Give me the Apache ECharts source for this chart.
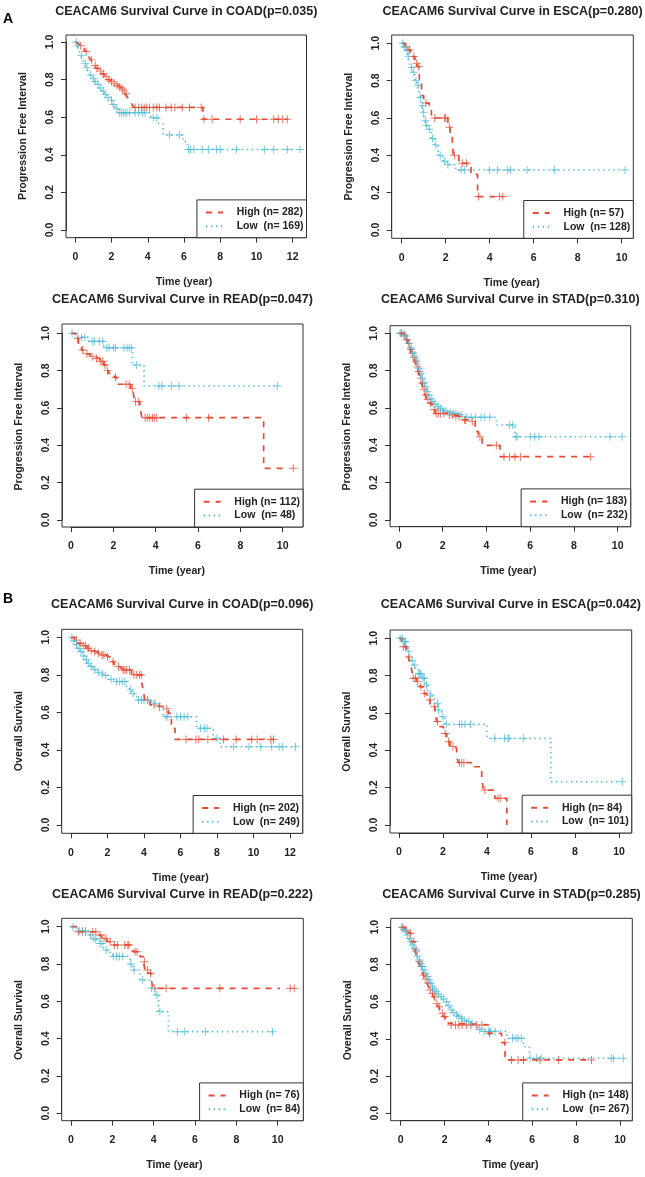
<!DOCTYPE html>
<html>
<head>
<meta charset="utf-8">
<script src="https://cdn.jsdelivr.net/npm/echarts@6/dist/echarts.min.js"></script>
<style>
  html, body { margin: 0; background: #fff; }
  #chart { width: 645px; height: 1177px; }
</style>
</head>
<body>
<div id="chart"></div>
<script>
// ---- panel labels ----
const cancers = ["COAD", "ESCA", "READ", "STAD", "COAD", "ESCA", "READ", "STAD"];
const pValues = ["0.035", "0.280", "0.047", "0.310", "0.096", "0.042", "0.222", "0.285"];
const endpoints = ["Progression Free Interval", "Progression Free Interval", "Progression Free Interval", "Progression Free Interval",
  "Overall Survival", "Overall Survival", "Overall Survival", "Overall Survival"];
const highN = [282, 57, 112, 183, 202, 84, 76, 148];
const lowN = [169, 128, 48, 232, 249, 101, 84, 267];
const xMaxTick = [12, 10, 10, 10, 12, 10, 10, 10];
const yTickLabels = ["0.0", "0.2", "0.4", "0.6", "0.8", "1.0"];

// ---- curves: T = time of drop, S = survival after drop, C = censor times ----
// A: COAD PFI
const coadPfiHighT = [0, 0.1, 0.2, 0.35, 0.5, 0.65, 0.75, 0.85, 0.95, 1.05, 1.15, 1.3, 1.45, 1.6, 1.75, 1.9, 2.05, 2.2, 2.35, 2.5, 2.65, 2.75, 2.85, 2.95, 3.05, 3.15, 3.25, 7.05];
const coadPfiHighS = [1, 0.99, 0.98, 0.965, 0.95, 0.935, 0.92, 0.905, 0.89, 0.875, 0.86, 0.845, 0.83, 0.815, 0.8, 0.79, 0.78, 0.77, 0.76, 0.75, 0.74, 0.725, 0.71, 0.695, 0.68, 0.665, 0.652, 0.589];
const coadPfiHighC = [0.3, 0.6, 0.9, 1.1, 1.2, 1.4, 1.55, 1.7, 1.85, 2.0, 2.15, 2.3, 2.45, 2.6, 2.7, 2.8, 3.3, 3.5, 3.65, 3.8, 3.95, 4.1, 4.3, 4.5, 4.65, 5.0, 5.3, 5.5, 5.9, 6.3, 6.95, 7.1, 7.55, 9.1, 10.0, 10.95, 11.2, 11.45, 11.7];
const coadPfiLowT = [0, 0.1, 0.2, 0.3, 0.4, 0.5, 0.6, 0.7, 0.8, 0.95, 1.05, 1.15, 1.3, 1.45, 1.6, 1.75, 1.9, 2.05, 2.2, 2.35, 4.15, 4.6, 4.85, 5.95, 6.2];
const coadPfiLowS = [1, 0.98, 0.955, 0.93, 0.905, 0.885, 0.865, 0.845, 0.825, 0.805, 0.79, 0.775, 0.755, 0.74, 0.72, 0.705, 0.69, 0.668, 0.645, 0.624, 0.597, 0.567, 0.505, 0.47, 0.428];
const coadPfiLowC = [0.05, 0.15, 0.35, 0.55, 0.65, 0.85, 1.0, 1.1, 1.25, 1.4, 1.55, 1.65, 1.8, 2.0, 2.1, 2.3, 2.45, 2.55, 2.65, 2.75, 2.85, 3.0, 3.3, 3.5, 3.7, 3.85, 4.3, 4.5, 5.2, 5.75, 6.25, 6.35, 6.55, 7.0, 7.35, 7.8, 8.0, 8.9, 10.45, 10.95, 11.7, 12.4];
// A: ESCA PFI
const escaPfiHighT = [0, 0.15, 0.3, 0.4, 0.5, 0.6, 0.7, 0.8, 0.9, 1.0, 1.25, 1.35, 2.1, 2.2, 2.3, 2.35, 2.6, 3.15, 3.45];
const escaPfiHighS = [1, 0.982, 0.964, 0.946, 0.929, 0.893, 0.875, 0.8, 0.72, 0.68, 0.64, 0.6, 0.55, 0.5, 0.45, 0.4, 0.357, 0.298, 0.179];
const escaPfiHighC = [0.2, 0.35, 0.55, 0.68, 0.78, 1.1, 1.5, 1.95, 2.0, 2.17, 2.4, 2.75, 2.95, 3.5, 4.45, 4.6];
const escaPfiLowT = [0, 0.1, 0.2, 0.27, 0.33, 0.4, 0.5, 0.6, 0.7, 0.76, 0.83, 0.9, 0.97, 1.05, 1.12, 1.2, 1.35, 1.5, 1.65, 1.85, 2.05, 2.45];
const escaPfiLowS = [1, 0.98, 0.96, 0.93, 0.9, 0.87, 0.845, 0.8, 0.775, 0.755, 0.71, 0.665, 0.63, 0.585, 0.56, 0.54, 0.49, 0.455, 0.4, 0.37, 0.35, 0.321];
const escaPfiLowC = [0.05, 0.12, 0.25, 0.3, 0.45, 0.55, 0.65, 0.75, 0.85, 0.95, 1.0, 1.08, 1.15, 1.25, 1.4, 1.55, 1.75, 1.95, 2.1, 2.7, 2.85, 4.0, 4.35, 4.8, 4.95, 5.7, 6.95, 10.15];
// A: READ PFI
const readPfiHighT = [0, 0.2, 0.35, 0.5, 0.65, 0.9, 1.15, 1.35, 1.55, 1.68, 1.78, 2.05, 2.15, 2.82, 2.95, 3.02, 3.25, 3.34, 9.1];
const readPfiHighS = [1, 0.973, 0.93, 0.91, 0.89, 0.875, 0.865, 0.85, 0.83, 0.8, 0.785, 0.765, 0.727, 0.705, 0.67, 0.634, 0.616, 0.548, 0.277];
const readPfiHighC = [0.3, 0.55, 0.75, 1.0, 1.2, 1.4, 1.5, 1.6, 1.72, 2.1, 2.6, 2.75, 2.9, 3.05, 3.2, 3.5, 3.6, 3.72, 3.85, 3.95, 4.05, 5.45, 6.5, 10.5];
const readPfiLowT = [0, 0.3, 0.8, 1.55, 2.9, 3.45];
const readPfiLowS = [1, 0.979, 0.957, 0.923, 0.83, 0.718];
const readPfiLowC = [0.05, 0.5, 0.65, 1.0, 1.1, 1.35, 1.5, 1.7, 1.8, 2.0, 2.1, 2.5, 2.65, 2.75, 2.85, 3.1, 4.15, 4.3, 4.75, 5.1, 9.75];
// A: STAD PFI
const stadPfiHighT = [0, 0.2, 0.3, 0.4, 0.5, 0.58, 0.65, 0.73, 0.8, 0.88, 0.96, 1.03, 1.11, 1.19, 1.27, 1.38, 1.5, 1.65, 2.18, 2.5, 2.95, 3.1, 3.48, 3.63, 3.8, 4.62];
const stadPfiHighS = [1, 0.99, 0.965, 0.946, 0.915, 0.893, 0.87, 0.848, 0.82, 0.795, 0.76, 0.732, 0.7, 0.67, 0.645, 0.625, 0.59, 0.571, 0.563, 0.554, 0.536, 0.527, 0.473, 0.446, 0.4, 0.339];
const stadPfiHighC = [0.1, 0.25, 0.35, 0.45, 0.55, 0.62, 0.7, 0.78, 0.85, 0.92, 1.0, 1.07, 1.15, 1.23, 1.32, 1.45, 1.6, 1.7, 1.8, 1.9, 2.05, 2.3, 2.45, 2.6, 2.75, 3.0, 3.05, 3.35, 3.7, 4.45, 4.8, 5.05, 5.3, 5.55, 8.75];
const stadPfiLowT = [0, 0.2, 0.27, 0.35, 0.43, 0.5, 0.58, 0.65, 0.73, 0.8, 0.88, 0.96, 1.04, 1.11, 1.19, 1.27, 1.34, 1.42, 1.5, 1.6, 1.72, 1.85, 1.95, 2.1, 2.26, 2.45, 2.64, 2.95, 4.45, 5.3];
const stadPfiLowS = [1, 0.995, 0.985, 0.965, 0.946, 0.923, 0.9, 0.88, 0.857, 0.835, 0.81, 0.785, 0.76, 0.735, 0.714, 0.69, 0.67, 0.65, 0.634, 0.62, 0.607, 0.597, 0.589, 0.582, 0.576, 0.57, 0.563, 0.55, 0.509, 0.446];
const stadPfiLowC = [0.05, 0.12, 0.22, 0.3, 0.38, 0.47, 0.55, 0.62, 0.7, 0.77, 0.85, 0.92, 1.0, 1.08, 1.15, 1.23, 1.3, 1.38, 1.47, 1.55, 1.65, 1.78, 1.9, 2.0, 2.15, 2.35, 2.5, 2.6, 2.7, 2.85, 3.1, 3.3, 3.5, 3.75, 3.9, 4.15, 5.05, 5.2, 5.35, 5.4, 6.0, 6.2, 6.4, 9.65, 10.2];
// B: COAD OS
const coadOsHighT = [0, 0.2, 0.4, 0.6, 0.86, 1.05, 1.22, 1.4, 1.59, 1.95, 2.1, 2.23, 2.35, 2.5, 2.65, 2.78, 3.32, 3.87, 3.95, 4.05, 4.33, 4.6, 5.06, 5.33, 5.5, 5.7];
const coadOsHighS = [1, 0.985, 0.968, 0.955, 0.941, 0.93, 0.924, 0.915, 0.906, 0.897, 0.885, 0.87, 0.857, 0.844, 0.835, 0.826, 0.8, 0.764, 0.72, 0.666, 0.64, 0.63, 0.62, 0.595, 0.515, 0.456];
const coadOsHighC = [0.3, 0.5, 0.7, 0.8, 0.95, 1.1, 1.3, 1.5, 1.7, 1.8, 2.0, 2.3, 2.6, 2.85, 2.95, 3.05, 3.2, 3.45, 3.6, 3.75, 3.85, 4.2, 4.55, 4.85, 5.25, 6.3, 6.85, 7.0, 7.5, 8.35, 9.05, 9.9, 10.2, 10.95, 11.1];
const coadOsLowT = [0, 0.1, 0.22, 0.35, 0.5, 0.63, 0.77, 0.9, 1.04, 1.2, 1.4, 1.6, 1.77, 2.05, 2.41, 3.05, 3.2, 3.32, 3.45, 3.6, 4.42, 4.88, 5.06, 6.89, 7.8, 8.16];
const coadOsLowS = [1, 0.98, 0.96, 0.94, 0.924, 0.9, 0.88, 0.862, 0.844, 0.828, 0.814, 0.805, 0.796, 0.776, 0.764, 0.737, 0.72, 0.7, 0.685, 0.666, 0.648, 0.63, 0.577, 0.515, 0.462, 0.417];
const coadOsLowC = [0.05, 0.15, 0.3, 0.45, 0.55, 0.7, 0.85, 0.95, 1.1, 1.3, 1.5, 1.7, 1.9, 2.2, 2.5, 2.65, 2.8, 2.95, 3.25, 3.4, 3.7, 3.85, 4.0, 4.2, 4.6, 5.2, 5.3, 5.8, 6.0, 6.2, 6.4, 7.1, 7.3, 7.45, 8.0, 8.9, 9.75, 10.4, 11.0, 11.4, 11.6, 12.3];
// B: ESCA OS
const escaOsHighT = [0, 0.12, 0.2, 0.35, 0.42, 0.5, 0.58, 0.65, 0.8, 0.95, 1.1, 1.26, 1.41, 1.64, 1.71, 1.86, 2.02, 2.17, 2.32, 2.47, 2.62, 2.7, 3.4, 3.76, 3.83, 4.36, 4.9];
const escaOsHighS = [1, 0.982, 0.955, 0.937, 0.9, 0.866, 0.83, 0.786, 0.768, 0.74, 0.705, 0.67, 0.634, 0.598, 0.554, 0.527, 0.49, 0.446, 0.42, 0.411, 0.366, 0.334, 0.312, 0.259, 0.187, 0.143, 0];
const escaOsHighC = [0.2, 0.3, 0.45, 0.65, 0.75, 0.85, 1.0, 1.15, 1.4, 1.6, 1.75, 2.1, 2.25, 2.45, 2.75, 2.85, 2.95, 3.9, 4.5, 4.6];
const escaOsLowT = [0, 0.2, 0.35, 0.42, 0.5, 0.58, 0.65, 0.75, 0.88, 1.03, 1.18, 1.3, 1.41, 1.52, 1.64, 1.79, 1.94, 2.09, 4.0, 6.9];
const escaOsLowS = [1, 0.982, 0.955, 0.93, 0.9, 0.88, 0.857, 0.835, 0.81, 0.786, 0.75, 0.72, 0.696, 0.675, 0.652, 0.616, 0.58, 0.539, 0.464, 0.232];
const escaOsLowC = [0.05, 0.15, 0.25, 0.3, 0.45, 0.6, 0.7, 0.9, 0.95, 1.0, 1.1, 1.15, 1.25, 1.45, 1.75, 1.8, 2.0, 2.15, 2.75, 2.85, 3.0, 3.25, 4.35, 4.8, 4.95, 5.0, 5.65, 10.15];
// B: READ OS
const readOsHighT = [0, 0.27, 1.32, 1.48, 1.73, 1.97, 2.94, 3.02, 3.34, 3.5, 3.58, 3.74, 3.9, 3.98];
const readOsHighS = [1, 0.973, 0.955, 0.9375, 0.92, 0.902, 0.884, 0.866, 0.84, 0.8125, 0.768, 0.75, 0.705, 0.67];
const readOsHighC = [0.35, 0.55, 0.7, 1.05, 1.2, 1.4, 1.6, 1.7, 1.9, 2.1, 2.25, 2.6, 2.75, 2.8, 3.1, 3.2, 3.55, 3.7, 3.85, 4.05, 4.6, 7.2, 10.6, 10.8];
const readOsLowT = [0, 0.11, 0.35, 0.84, 1.0, 1.16, 1.4, 1.56, 1.65, 1.89, 1.97, 2.85, 3.0, 3.34, 3.9, 4.06, 4.23, 4.71];
const readOsLowS = [1, 0.99, 0.977, 0.955, 0.9375, 0.93, 0.91, 0.89, 0.875, 0.85, 0.84, 0.8, 0.768, 0.714, 0.67, 0.634, 0.545, 0.4375];
const readOsLowC = [0.1, 0.4, 0.55, 0.7, 0.95, 1.1, 1.2, 1.4, 1.5, 1.7, 2.05, 2.2, 2.35, 2.5, 2.9, 3.05, 3.45, 3.9, 4.15, 4.3, 5.15, 5.5, 6.5, 9.75];
// B: STAD OS
const stadOsHighT = [0, 0.2, 0.35, 0.5, 0.65, 0.73, 0.8, 0.88, 0.96, 1.03, 1.11, 1.19, 1.27, 1.34, 1.42, 1.49, 1.57, 1.64, 1.72, 1.79, 1.87, 1.95, 2.05, 2.17, 2.3, 4.0, 4.6, 4.76];
const stadOsHighS = [1, 0.986, 0.968, 0.923, 0.878, 0.842, 0.815, 0.789, 0.766, 0.744, 0.722, 0.7, 0.68, 0.663, 0.645, 0.627, 0.61, 0.591, 0.573, 0.556, 0.538, 0.52, 0.502, 0.484, 0.475, 0.43, 0.38, 0.287];
const stadOsHighC = [0.1, 0.25, 0.45, 0.6, 0.7, 0.85, 0.95, 1.05, 1.15, 1.25, 1.35, 1.45, 1.55, 1.65, 1.75, 1.9, 2.0, 2.3, 2.5, 2.65, 2.8, 3.0, 3.2, 3.45, 3.7, 4.05, 4.75, 5.05, 5.35, 5.6, 6.35, 7.2, 8.7];
const stadOsLowT = [0, 0.1, 0.2, 0.28, 0.35, 0.43, 0.5, 0.58, 0.65, 0.72, 0.8, 0.88, 0.96, 1.03, 1.11, 1.19, 1.26, 1.34, 1.41, 1.49, 1.57, 1.68, 1.79, 1.9, 2.02, 2.13, 2.25, 2.36, 2.48, 2.6, 2.7, 2.85, 3.0, 3.15, 3.3, 3.42, 3.54, 3.77, 4.83, 5.6, 5.87];
const stadOsLowS = [1, 0.99, 0.977, 0.958, 0.94, 0.922, 0.905, 0.887, 0.869, 0.846, 0.824, 0.806, 0.789, 0.771, 0.753, 0.735, 0.717, 0.7, 0.681, 0.668, 0.654, 0.64, 0.627, 0.614, 0.6, 0.578, 0.556, 0.542, 0.529, 0.52, 0.51, 0.5, 0.493, 0.484, 0.475, 0.462, 0.45, 0.44, 0.403, 0.358, 0.296];
const stadOsLowC = [0.05, 0.15, 0.25, 0.32, 0.4, 0.47, 0.55, 0.62, 0.7, 0.77, 0.85, 0.92, 1.0, 1.07, 1.15, 1.23, 1.3, 1.38, 1.45, 1.53, 1.62, 1.72, 1.85, 1.95, 2.1, 2.2, 2.3, 2.42, 2.55, 2.65, 2.78, 2.9, 3.1, 3.25, 3.6, 3.8, 4.0, 4.1, 4.3, 5.1, 5.25, 5.35, 5.5, 5.9, 6.2, 6.4, 9.6, 9.7, 10.15];

const highCurves = [
  [coadPfiHighT, coadPfiHighS, coadPfiHighC], [escaPfiHighT, escaPfiHighS, escaPfiHighC],
  [readPfiHighT, readPfiHighS, readPfiHighC], [stadPfiHighT, stadPfiHighS, stadPfiHighC],
  [coadOsHighT, coadOsHighS, coadOsHighC], [escaOsHighT, escaOsHighS, escaOsHighC],
  [readOsHighT, readOsHighS, readOsHighC], [stadOsHighT, stadOsHighS, stadOsHighC]
];
const lowCurves = [
  [coadPfiLowT, coadPfiLowS, coadPfiLowC], [escaPfiLowT, escaPfiLowS, escaPfiLowC],
  [readPfiLowT, readPfiLowS, readPfiLowC], [stadPfiLowT, stadPfiLowS, stadPfiLowC],
  [coadOsLowT, coadOsLowS, coadOsLowC], [escaOsLowT, escaOsLowS, escaOsLowC],
  [readOsLowT, readOsLowS, readOsLowC], [stadOsLowT, stadOsLowS, stadOsLowC]
];

// ---- layout (pixels) ----
// frame box: left, top, right, bottom
const boxes = [
  [66, 35, 306.5, 237.7], [391.7, 35, 633.3, 238.3],
  [62, 324, 303, 527], [390, 325.7, 630.7, 526.7],
  [61.7, 629.3, 302.7, 833.3], [390, 630, 631.7, 833],
  [61.7, 918.3, 303.3, 1120.7], [390.7, 918.3, 632.3, 1120.7]
];
// plot area: x of time 0, x of last tick, y of 1.0, y of 0.0
const plots = [
  [75.3, 292.7, 42, 230], [401.7, 621.7, 43.3, 230],
  [71, 282.7, 333.3, 520], [399, 617.7, 333.3, 520],
  [71, 290, 637.3, 825], [399, 619, 638.3, 825],
  [71, 277.7, 926.7, 1113.3], [400.7, 620, 927.3, 1113.3]
];
const titleY = [12, 12, 300, 300, 605, 605, 895, 895];

const RED = "#E64B35";
const BLUE = "#4DBBD5";
const INK = "#222";
const FONT = "'Liberation Sans', Arial, sans-serif";
const PLUS = "path://M4.4,0h1.2v10h-1.2z M0,4.4h10v1.2h-10z";

function stepAt(T, S, t) {
  let s = S[0];
  for (let i = 0; i < T.length; i++) if (T[i] <= t) s = S[i];
  return s;
}
function curvePoints(T, S, C) {
  const pts = T.map((t, i) => [t, S[i]]);
  const last = Math.max.apply(null, C);
  if (last > T[T.length - 1]) pts.push([last, S[S.length - 1]]);
  return pts;
}

const grids = [], xAxes = [], yAxes = [], series = [], titles = [], legends = [], shapes = [];
const axisColor = "#333";

for (let i = 0; i < 8; i++) {
  const b = boxes[i], p = plots[i];
  const highName = "High (n= " + highN[i] + ")";
  const lowName = "Low  (n= " + lowN[i] + ")";

  grids.push({ left: p[0], top: p[2], width: p[1] - p[0], height: p[3] - p[2], containLabel: false });

  xAxes.push({
    gridIndex: i, type: "value", min: 0, max: xMaxTick[i], interval: 2,
    offset: b[3] - p[3],
    axisLine: { show: true, onZero: false, lineStyle: { color: axisColor, width: 1 } },
    axisTick: { show: true, length: 5, lineStyle: { color: axisColor } },
    axisLabel: { margin: 14, fontSize: 10.5, fontWeight: "bold", color: INK, fontFamily: FONT },
    splitLine: { show: false },
    name: "Time (year)", nameLocation: "middle", nameGap: 39,
    nameTextStyle: { fontSize: 10.6, fontWeight: "bold", color: INK, fontFamily: FONT }
  });

  yAxes.push({
    gridIndex: i, type: "value", min: 0, max: 1, interval: 0.2,
    offset: p[0] - b[0],
    axisLine: { show: true, onZero: false, lineStyle: { color: axisColor, width: 1 } },
    axisTick: { show: true, length: 5, lineStyle: { color: axisColor } },
    axisLabel: {
      rotate: 90, margin: 10, fontSize: 10.5, fontWeight: "bold", color: INK, fontFamily: FONT,
      formatter: v => yTickLabels[Math.round(v / 0.2)]
    },
    splitLine: { show: false },
    name: endpoints[i], nameLocation: "middle", nameGap: 37,
    nameTextStyle: { fontSize: 10.6, fontWeight: "bold", color: INK, fontFamily: FONT }
  });

  const hc = highCurves[i], lc = lowCurves[i];
  series.push({
    type: "line", name: highName, xAxisIndex: i, yAxisIndex: i, step: "end",
    data: curvePoints(hc[0], hc[1], hc[2]), symbol: "none", clip: false, silent: true,
    lineStyle: { color: RED, width: 1.7, type: [6, 6] }, itemStyle: { color: RED }
  });
  series.push({
    type: "line", name: lowName, xAxisIndex: i, yAxisIndex: i, step: "end",
    data: curvePoints(lc[0], lc[1], lc[2]), symbol: "none", clip: false, silent: true,
    lineStyle: { color: BLUE, width: 1.6, type: [1.4, 3.6] }, itemStyle: { color: BLUE }
  });
  series.push({
    type: "scatter", name: "censor-high-" + i, xAxisIndex: i, yAxisIndex: i, clip: false, silent: true,
    symbol: PLUS, symbolSize: 8, itemStyle: { color: RED },
    data: hc[2].map(t => [t, stepAt(hc[0], hc[1], t)])
  });
  series.push({
    type: "scatter", name: "censor-low-" + i, xAxisIndex: i, yAxisIndex: i, clip: false, silent: true,
    symbol: PLUS, symbolSize: 8, itemStyle: { color: BLUE },
    data: lc[2].map(t => [t, stepAt(lc[0], lc[1], t)])
  });

  titles.push({
    text: "CEACAM6 Survival Curve in " + cancers[i] + "(p=" + pValues[i] + ")",
    left: (b[0] + b[2]) / 2, top: titleY[i] - 7, textAlign: "center", padding: 0,
    textStyle: { fontSize: 12.5, fontWeight: "bold", color: INK, fontFamily: FONT }
  });

  legends.push({
    data: [highName, lowName], orient: "vertical", align: "left",
    right: 645 - b[2], bottom: 1177 - b[3],
    itemWidth: 17, itemHeight: 8, itemGap: 2.8,
    padding: [7, 3, 6, 8],
    backgroundColor: "#fff", borderColor: axisColor, borderWidth: 1, borderRadius: 0,
    selectedMode: false,
    itemStyle: { opacity: 0 },
    formatter: name => "   " + name,
    textStyle: { fontSize: 10.5, fontWeight: "bold", color: INK, fontFamily: FONT, padding: 0 }
  });

  shapes.push({
    type: "rect", silent: true, z: 1,
    shape: { x: b[0], y: b[1], width: b[2] - b[0], height: b[3] - b[1] },
    style: { fill: "none", stroke: axisColor, lineWidth: 1 }
  });
}

titles.push({ text: "A", left: 3, top: 12, padding: 0, textStyle: { fontSize: 14, fontWeight: "bold", color: "#000", fontFamily: FONT } });
titles.push({ text: "B", left: 3, top: 592, padding: 0, textStyle: { fontSize: 14, fontWeight: "bold", color: "#000", fontFamily: FONT } });

const chart = echarts.init(document.getElementById("chart"), null, { renderer: "canvas" });
chart.setOption({
  animation: false,
  backgroundColor: "#fff",
  title: titles,
  legend: legends,
  grid: grids,
  xAxis: xAxes,
  yAxis: yAxes,
  series: series,
  graphic: shapes
});
</script>
</body>
</html>
